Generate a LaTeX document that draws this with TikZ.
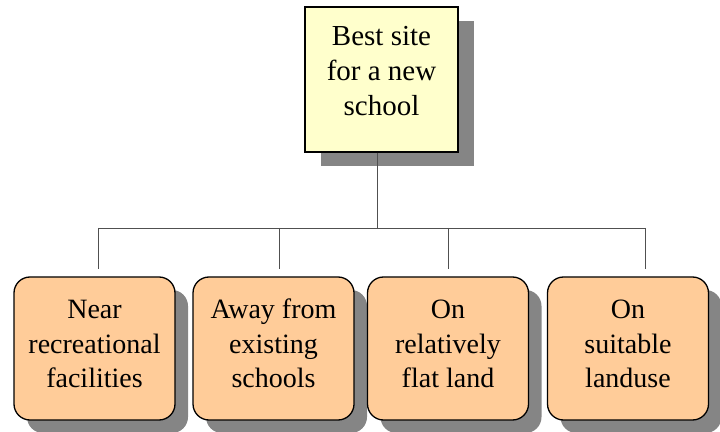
\documentclass[tikz,border=0pt]{standalone}
\usepackage{fontspec}
\setmainfont{Liberation Serif}
\usetikzlibrary{shadows}
\definecolor{topfill}{HTML}{FFFFCC}
\definecolor{boxfill}{HTML}{FFCC99}
\definecolor{shadowgray}{HTML}{858585}
\definecolor{linegray}{HTML}{505050}
\newcommand{\boxtext}[2]{\raisebox{#1}[\height][\depth]{\begin{tabular}{@{}c@{}}#2\end{tabular}}}
\begin{document}
\begin{tikzpicture}[x=1pt,y=1pt,
  topbox/.style={draw=black, line width=1.3pt, fill=topfill, minimum width=153pt, minimum height=145pt,
    inner sep=0pt, font=\fontsize{29}{35}\selectfont,
    drop shadow={shadow xshift=16pt, shadow yshift=-14pt, fill=shadowgray, opacity=1}},
  subbox/.style={draw=black, line width=1.3pt, fill=boxfill, rounded corners=16pt, minimum width=161pt, minimum height=143pt,
    inner sep=0pt, font=\fontsize{28}{34.5}\selectfont,
    drop shadow={shadow xshift=13pt, shadow yshift=-13pt, fill=shadowgray, opacity=1}},
  link/.style={draw=linegray, line width=0.9pt}]
\useasboundingbox (0,0) rectangle (720,431);
\node[topbox] (top) at (381.5,351.5) {\boxtext{6pt}{Best site\\for a new\\school}};
\node[subbox] (b1) at (94.5,82.5) {\boxtext{2pt}{Near\\recreational\\facilities}};
\node[subbox] (b2) at (273.5,82.5) {\boxtext{2pt}{Away from\\existing\\schools}};
\node[subbox] (b3) at (448,82.5) {\boxtext{2pt}{On\\relatively\\flat land}};
\node[subbox] (b4) at (628,82.5) {\boxtext{2pt}{On\\suitable\\landuse}};
\coordinate (j) at (377,203);
\coordinate (e1) at (98,162);
\coordinate (e2) at (279,162);
\coordinate (e3) at (448,162);
\coordinate (e4) at (645,162);
\draw[link] (top.south -| j) -- (j);
\draw[link] (e1 |- j) -- (e4 |- j);
\draw[link] (e1 |- j) -- (e1);
\draw[link] (e2 |- j) -- (e2);
\draw[link] (e3 |- j) -- (e3);
\draw[link] (e4 |- j) -- (e4);
\end{tikzpicture}
\end{document}
